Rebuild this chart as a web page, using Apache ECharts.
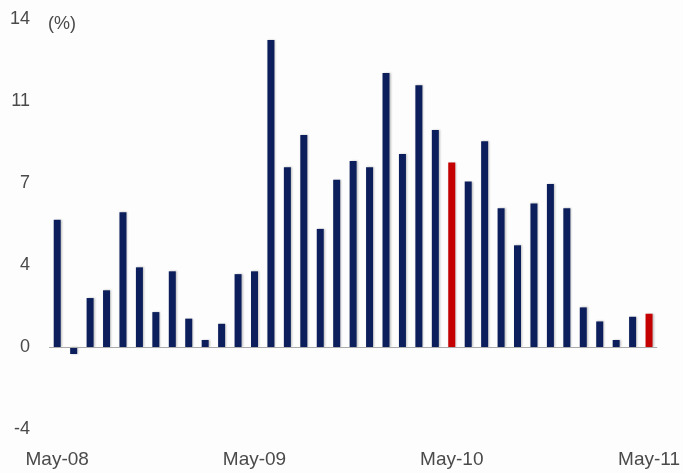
<!DOCTYPE html>
<html>
<head>
<meta charset="utf-8">
<script src="https://cdn.jsdelivr.net/npm/echarts@6/dist/echarts.min.js"></script>
<style>
html,body{margin:0;padding:0;background:#fdfdfd;}
#chart{width:683px;height:473px;}
</style>
</head>
<body>
<div id="chart"></div>
<script>
const categories = ["May-08","Jun-08","Jul-08","Aug-08","Sep-08","Oct-08","Nov-08","Dec-08","Jan-09","Feb-09","Mar-09","Apr-09",
  "May-09","Jun-09","Jul-09","Aug-09","Sep-09","Oct-09","Nov-09","Dec-09","Jan-10","Feb-10","Mar-10","Apr-10",
  "May-10","Jun-10","Jul-10","Aug-10","Sep-10","Oct-10","Nov-10","Dec-10","Jan-11","Feb-11","Mar-11","Apr-11","May-11"];
const values = [5.43,-0.3,2.09,2.42,5.75,3.40,1.49,3.23,1.21,0.30,0.99,3.11,
  3.23,13.1,7.67,9.05,5.04,7.14,7.94,7.67,11.69,8.24,11.17,9.26,
  7.87,7.06,8.78,5.92,4.34,6.13,6.96,5.92,1.69,1.09,0.30,1.29,1.42];
const highlighted = ["May-10","May-11"];
const yTickValues = [-3.5,0,3.5,7,10.5,14];
const yTickLabels = ["-4","0","4","7","11","14"];
const unitLabel = "(%)";

const chart = echarts.init(document.getElementById('chart'));
chart.setOption({
  backgroundColor: '#fdfdfd',
  animation: false,
  grid: {left: 49, right: 25, top: 19, bottom: 44, containLabel: false},
  graphic: [{
    type: 'text', left: 48, top: 15,
    style: {text: unitLabel, fontSize: 18, fill: '#4a4a4a', fontFamily: 'Liberation Sans, Arial, sans-serif'}
  }],
  xAxis: {
    type: 'category',
    data: categories,
    axisLine: {show: false},
    axisTick: {show: false},
    axisLabel: {
      interval: 11,
      color: '#4a4a4a',
      fontSize: 19,
      margin: 21,
      fontFamily: 'Liberation Sans, Arial, sans-serif'
    },
    splitLine: {show: false}
  },
  yAxis: {
    type: 'value',
    min: -3.5, max: 14, interval: 3.5,
    axisLine: {show: false},
    axisTick: {show: false},
    splitLine: {show: false},
    axisLabel: {
      color: '#4a4a4a',
      fontSize: 18,
      margin: 19,
      fontFamily: 'Liberation Sans, Arial, sans-serif',
      formatter: function (v) {
        const i = yTickValues.findIndex(t => Math.abs(t - v) < 1e-6);
        return i >= 0 ? yTickLabels[i] : '';
      }
    }
  },
  series: [{
    type: 'bar',
    barWidth: 7,
    data: values.map((v, i) => ({
      value: v,
      itemStyle: {color: highlighted.includes(categories[i]) ? '#c40000' : '#0c1f5c'}
    })),
    itemStyle: {shadowColor: 'rgba(0,0,0,0.25)', shadowBlur: 2, shadowOffsetX: 1, shadowOffsetY: 0},
    markLine: {
      silent: true, symbol: 'none', label: {show: false},
      lineStyle: {color: '#aaaaaa', width: 1, type: 'solid'},
      data: [{yAxis: 0}]
    }
  }]
});
</script>
</body>
</html>
